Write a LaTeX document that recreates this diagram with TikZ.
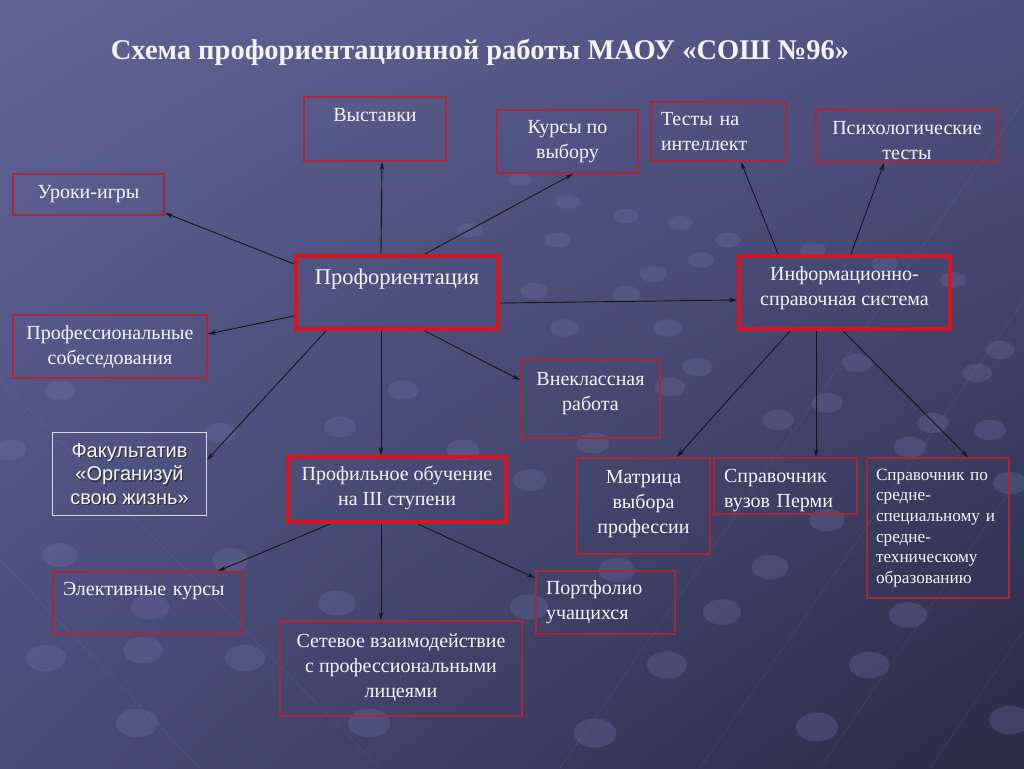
\documentclass[tikz,border=0pt]{standalone}
\usepackage{fontspec}
\setmainfont{Liberation Serif}
\newfontfamily\arialf{Liberation Sans}
\usetikzlibrary{arrows.meta,calc,shadings}
\definecolor{bgUL}{HTML}{606496}
\definecolor{bgUR}{HTML}{4E5180}
\definecolor{bgLL}{HTML}{494C79}
\definecolor{bgLR}{HTML}{2A2B45}
\definecolor{dotc}{HTML}{7478AC}
\definecolor{boxred}{HTML}{A8283A}
\definecolor{thickred}{HTML}{D8141E}
\definecolor{txt}{HTML}{F4F4F6}
\begin{document}
\begin{tikzpicture}[x=1pt,y=-1pt,
  box/.style={draw=boxred, line width=2pt, inner sep=0pt, text=txt, anchor=north west, align=center, font=\fontsize{20}{25}\selectfont},
  thickbox/.style={box, draw=thickred, line width=4pt},
  leftbox/.style={box, align=left},
  arr/.style={draw=black!92, line width=0.9pt, -{Stealth[length=8pt,width=4.5pt]}},
  bgline/.style={draw=white, opacity=0.07, line width=0.6pt}]
\shade[upper left=bgUL, upper right=bgUR, lower left=bgLL, lower right=bgLR] (0,0) rectangle (1024,768);
\useasboundingbox (0,0) rectangle (1024,768);
% faint background lines
\draw[bgline] (700,768) -- (1024,300);
\draw[bgline] (820,768) -- (1024,470);
\draw[bgline] (930,768) -- (1024,630);
\draw[bgline] (560,768) -- (1024,100);
\draw[bgline] (0,560) -- (200,768);
\draw[bgline] (0,380) -- (380,768);
% background dots
\foreach \px/\py in {46/658,245/658,150/607,337/603,529/607,722/612,908/615,137/723,369/723,667/665,869/665,595/733,817/727,1010/720,
  530/480,593/443,670/387,697/367,778/420,827/403,857/363,910/447,933/423,977/373,1010/483,827/520,770/567,617/570,
  568/202,626/216,680/223,728/240,558/240,653/274,701/260,813/250,885/264,953/280,534/291,626/294,565/328,667/328,
  60/390,220/433,10/450,340/427,403/390,463/450,60/555,230/560,143/650,1000/350,990/430,470/230,520/180}{
  \pgfmathsetmacro{\rx}{9+\py/60}
  \pgfmathsetmacro{\ry}{4+\py/70}
  \fill[dotc, opacity=0.28] (\px,\py) ellipse [x radius=\rx pt, y radius=\ry pt];
}
% title
\node[font=\bfseries\fontsize{28.5}{32}\selectfont, text=txt] (title) at (480,52) {Схема профориентационной работы МАОУ «СОШ №96»};
% boxes
\node[box, minimum width=142pt, text height=24pt, text depth=40pt] (vys) at (303,96) {Выставки};
\node[box, minimum width=141pt, minimum height=63pt] (kur) at (496,109) {Курсы по\\выбору};
\node[leftbox, minimum width=135pt, minimum height=59pt, text width=115pt] (tes) at (650,101) {Тесты на\\интеллект};
\node[box, minimum width=182pt, minimum height=53pt] (psy) at (815,108) {\rule{0pt}{23pt}Психологические\\тесты};
\node[box, minimum width=151pt, minimum height=41pt] (uro) at (12,173) {Уроки-игры};
\node[thickbox, minimum width=202pt, text height=28.5pt, text depth=44.5pt, font=\fontsize{22.5}{27}\selectfont] (prf) at (294,254) {Профориентация};
\node[thickbox, minimum width=211pt, minimum height=73pt] (inf) at (737,254) {Информационно-\\справочная система\\[-13pt]};
\node[box, minimum width=194pt, minimum height=63pt] (sob) at (12,314) {Профессиональные\\собеседования};
\node[box, minimum width=139pt, minimum height=78pt] (vne) at (520,359) {Внеклассная\\работа\\[-9.5pt]};
\node[box, draw=white!85!black, line width=1pt, minimum width=154pt, minimum height=83pt] (fak) at (52,432) {};
\node[text=black!80, align=center, font=\arialf\fontsize{20}{23.5}\selectfont] (fakS) at ($(fak.center)+(1.2,1.2)$) {Факультатив\\«Организуй\\свою жизнь»};
\node[text=txt, align=center, font=\arialf\fontsize{20}{23.5}\selectfont] (fakT) at (fak.center) {Факультатив\\«Организуй\\свою жизнь»};
\node[thickbox, minimum width=218pt, minimum height=65pt] (pob) at (286,455) {Профильное обучение\\на III ступени\\[-17pt]};
\node[box, minimum width=133pt, minimum height=96pt] (mat) at (576,457) {Матрица\\выбора\\профессии\\[-17pt]};
\node[leftbox, minimum width=143pt, minimum height=56pt, text width=123pt] (spv) at (713,457) {\rule{0pt}{22pt}Справочник\\вузов Перми};
\node[leftbox, minimum width=142pt, minimum height=140pt, text width=124pt, font=\fontsize{17.2}{20.6}\selectfont] (sps) at (866,457) {Справочник по\\средне-\\специальному и\\средне-\\техническому\\образованию};
\node[leftbox, minimum width=189pt, text width=169pt, text height=23.5pt, text depth=38.5pt] (ele) at (52,571) {Элективные курсы};
\node[leftbox, minimum width=139pt, minimum height=63pt, text width=119pt] (por) at (535,570) {Портфолио\\учащихся};
\node[box, minimum width=242pt, minimum height=95pt] (set) at (279,620) {Сетевое взаимодействие\\с профессиональными\\лицеями\\[-19pt]};
% arrows from Профориентация
\draw[arr] ([yshift=-10pt]prf.north west) -- ([yshift=3pt]uro.south east);
\draw[arr] ([xshift=87pt]prf.north west) -- ([xshift=7pt]vys.south);
\draw[arr] ([xshift=131pt]prf.north west) -- ([xshift=77pt]kur.south west);
\draw[arr] ([yshift=-49pt]prf.north east) -- ([yshift=-46pt]inf.north west);
\draw[arr] ([yshift=15pt]prf.south west) -- ([yshift=-20pt]sob.north east);
\draw[arr] ([xshift=32pt]prf.south west) -- ([yshift=-28pt]fak.north east);
\draw[arr] ([xshift=87pt]prf.south west) -- ([xshift=95pt]pob.north west);
\draw[arr] ([xshift=131pt]prf.south west) -- ([yshift=-21pt]vne.north west);
% arrows from Информационно-справочная система
\draw[arr] ([xshift=41pt]inf.north west) -- ([xshift=91pt]tes.south west);
\draw[arr] ([xshift=114pt]inf.north west) -- ([xshift=69pt]psy.south west);
\draw[arr] ([xshift=53pt]inf.south west) -- ([xshift=101pt]mat.north west);
\draw[arr] ([xshift=79pt]inf.south west) -- ([xshift=103pt]spv.north west);
\draw[arr] ([xshift=106pt]inf.south west) -- ([xshift=102pt]sps.north west);
% arrows from Профильное обучение
\draw[arr] ([xshift=44pt]pob.south west) -- ([xshift=166pt]ele.north west);
\draw[arr] ([xshift=95pt]pob.south west) -- ([xshift=102pt]set.north west);
\draw[arr] ([xshift=132pt]pob.south west) -- ([yshift=-8pt]por.north west);
\end{tikzpicture}
\end{document}
